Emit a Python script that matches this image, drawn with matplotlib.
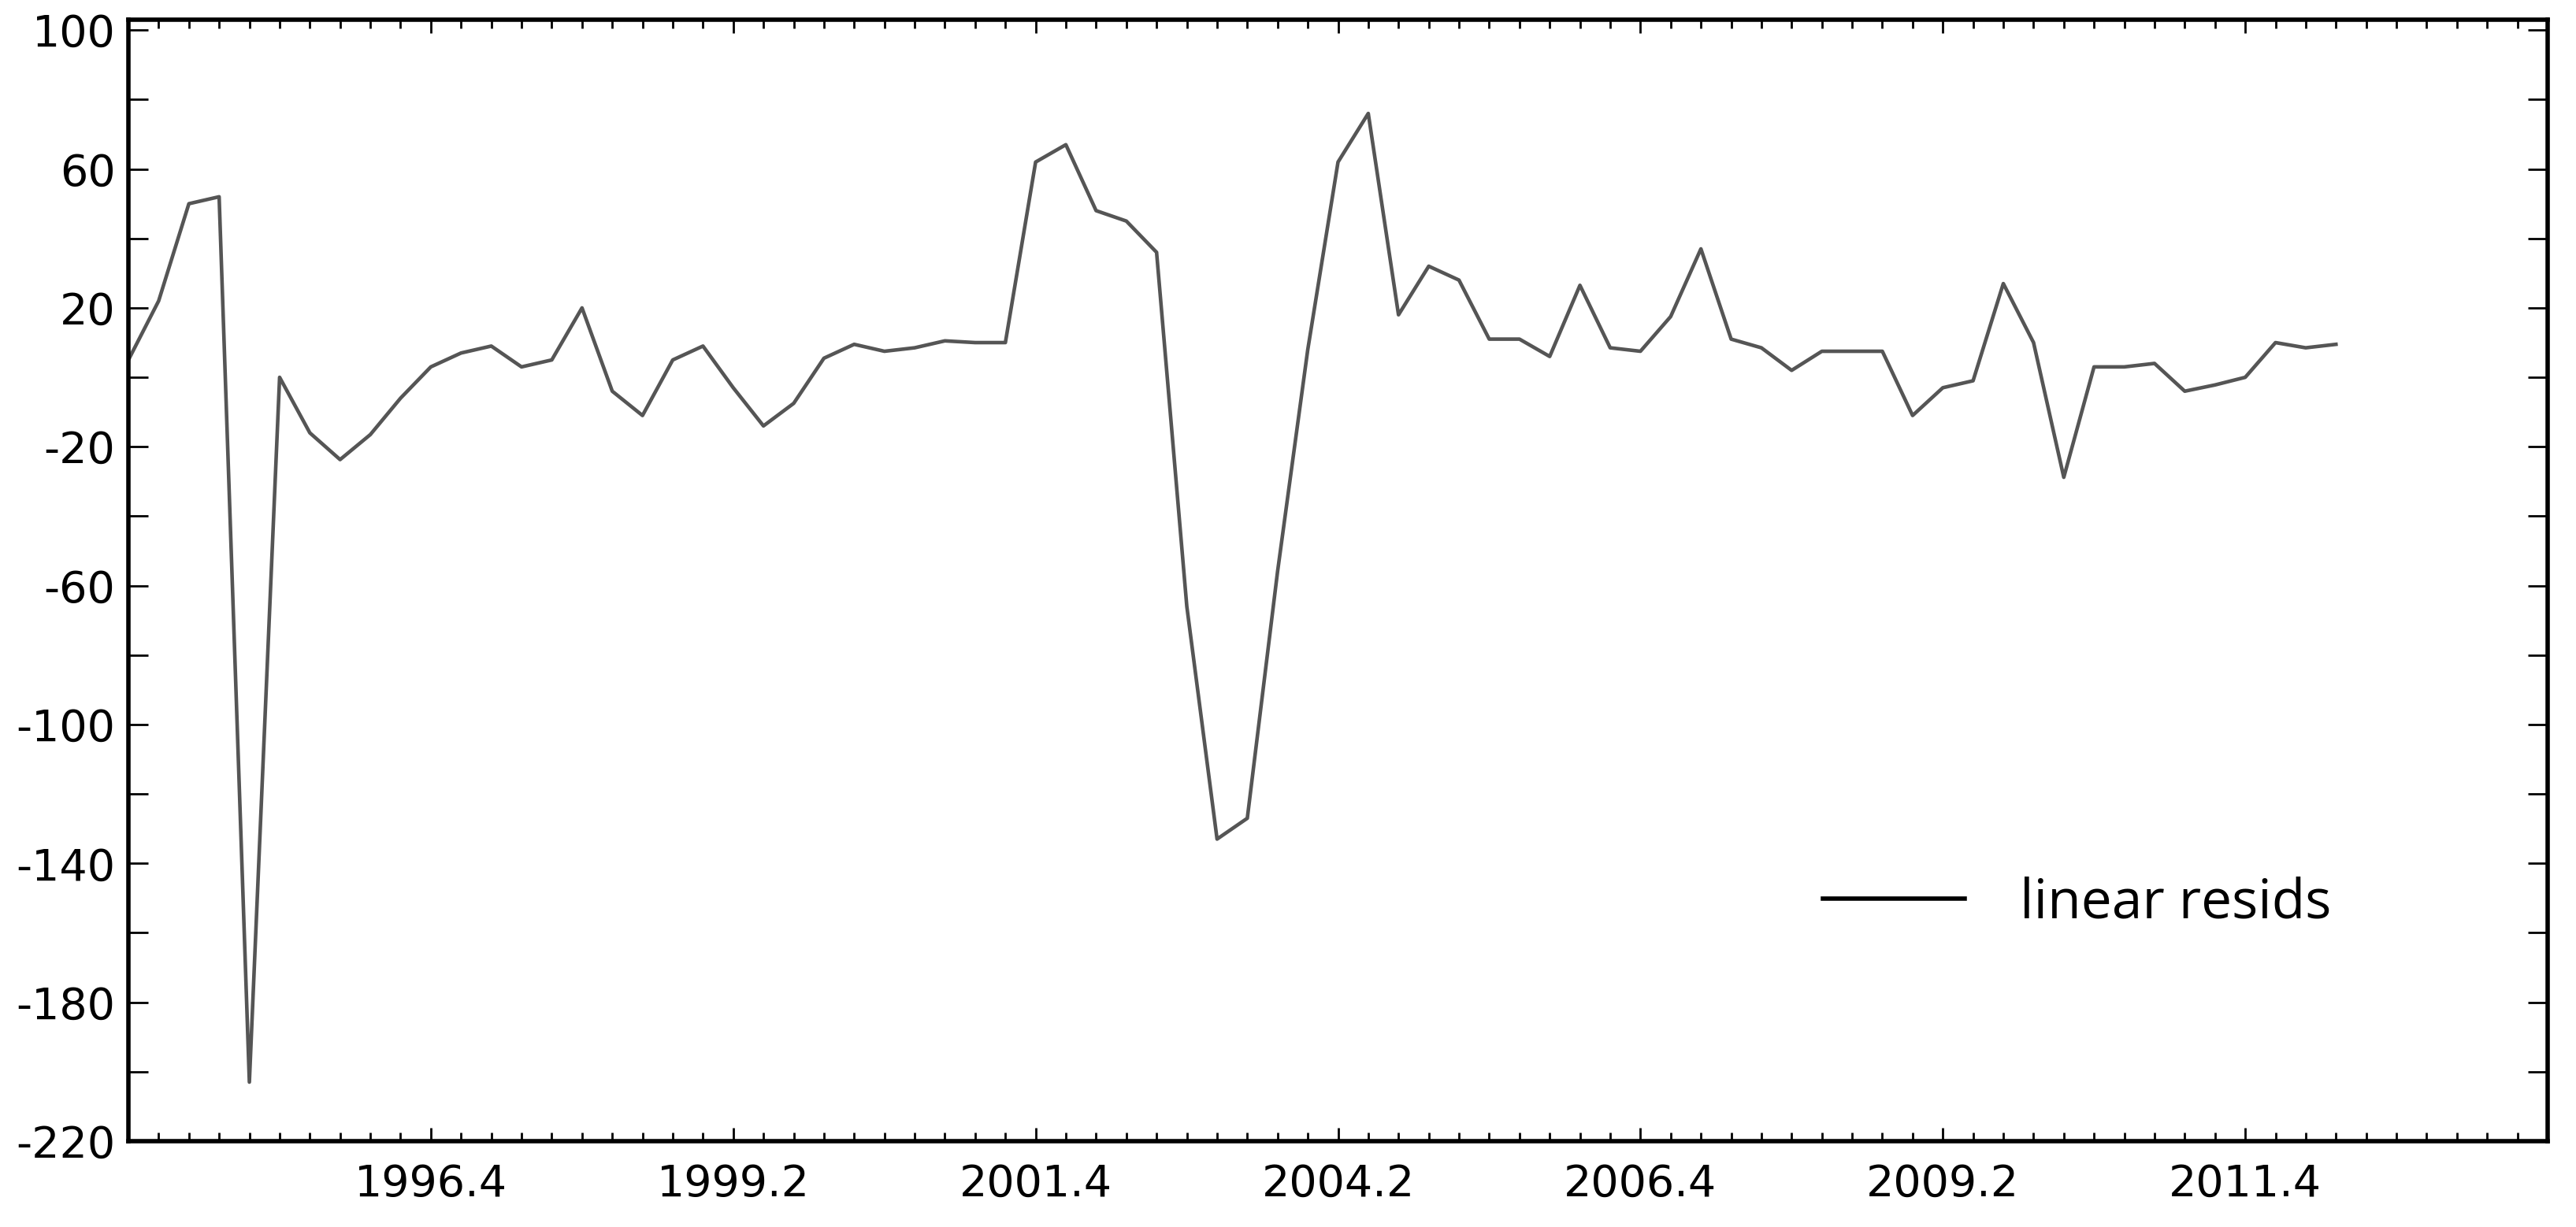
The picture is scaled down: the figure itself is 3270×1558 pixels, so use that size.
import matplotlib
matplotlib.use("Agg")
import matplotlib.pyplot as plt
from matplotlib.ticker import MultipleLocator

# quarterly residuals, index 0 = 1994Q2
resids = [5, 22, 50, 52, -203, 0, -16, -23.7, -16.5, -6, 3, 7, 9, 3, 5, 20, -4, -11, 5, 9,
          -3, -14, -7.5, 5.5, 9.5, 7.5, 8.5, 10.5, 10, 10, 62, 67, 48, 45, 36, -66, -133, -127,
          -56, 8, 62, 76, 18, 32, 28, 11, 11, 6, 26.5, 8.5, 7.5, 17.5, 37, 11, 8.5, 2, 7.5, 7.5,
          7.5, -11, -3, -1, 27, 10, -28.8, 3, 3, 4, -4, -2.2, 0, 10, 8.5, 9.5]
tick_labels = ["1996.4", "1999.2", "2001.4", "2004.2", "2006.4", "2009.2", "2011.4"]
tick_pos = [10, 20, 30, 40, 50, 60, 70]
y_ticks = [100, 60, 20, -20, -60, -100, -140, -180, -220]

fig = plt.figure(figsize=(32.7, 15.58), dpi=100)
ax = fig.add_axes([163/3270, 1 - 1449/1558, (3234-163)/3270, (1449-25)/1558])
ax.plot(range(len(resids)), resids, color="#555555", lw=3.3, label="linear resids")
ax.set_xlim(0, 80)
ax.set_ylim(-220, 103)
ax.set_yticks(y_ticks)
ax.set_yticklabels([str(v) for v in y_ticks])
ax.yaxis.set_minor_locator(MultipleLocator(20))
ax.set_xticks(tick_pos)
ax.set_xticklabels(tick_labels)
ax.xaxis.set_minor_locator(MultipleLocator(1))
ax.tick_params(axis="both", which="major", direction="in", top=True, right=True,
               length=18, width=2, labelsize=40, pad=12)
ax.tick_params(axis="x", which="major", length=12, pad=20)
ax.tick_params(axis="both", which="minor", direction="in", top=True, right=True, length=8, width=2)
ax.tick_params(axis="y", which="minor", length=18)
for s in ax.spines.values():
    s.set_linewidth(4)
leg = ax.legend(loc="center left", bbox_to_anchor=(0.68, 0.212), frameon=False,
                handlelength=2.6, handletextpad=1.0, prop={"family": "Open Sans", "size": 50})
leg.get_lines()[0].set_color("black")
leg.get_lines()[0].set_linewidth(4)
fig.savefig("out.png", dpi=100, facecolor="white")
